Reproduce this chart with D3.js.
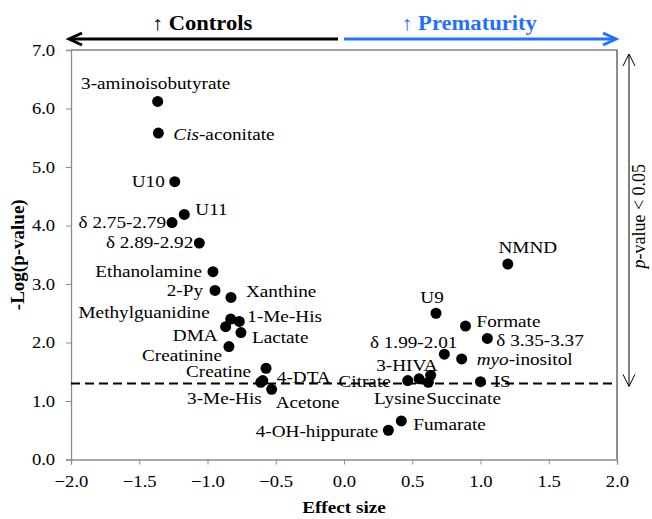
<!DOCTYPE html>
<html lang="en">
<head>
<meta charset="UTF-8">
<title>Effect size vs -Log(p-value)</title>
<script src="https://d3js.org/d3.v7.min.js"></script>
<style>
  body { margin: 0; background: #fff; }
  svg { display: block; font-family: "Liberation Serif", "Times New Roman", serif; }
  .axis .domain, .axis line { stroke: #8c8c8c; }
  .axis text { font-size: 16.5px; fill: #000; font-family: "Liberation Serif", "Times New Roman", serif; }
  .label { font-size: 17px; fill: #000; }
</style>
</head>
<body>
<svg id="chart" width="652" height="519"></svg>
<script>
// metabolites, effect size and -log10(p)
const metabolites = [
  "3-aminoisobutyrate", "Cis-aconitate", "U10", "U11", "δ 2.75-2.79", "δ 2.89-2.92",
  "Ethanolamine", "2-Py", "Xanthine", "Methylguanidine", "1-Me-His", "DMA", "Lactate",
  "Creatinine", "Creatine", "4-DTA", "3-Me-His", "Acetone", "4-OH-hippurate", "Fumarate",
  "Citrate", "Lysine", "Succinate", "3-HIVA", "U9", "δ 1.99-2.01", "myo-inositol",
  "Formate", "IS", "δ 3.35-3.37", "NMND"
];
const effectSize = [
  -1.365, -1.36, -1.24, -1.17, -1.26, -1.06,
  -0.96, -0.945, -0.828, -0.83, -0.767, -0.867, -0.755,
  -0.843, -0.571, -0.595, -0.61, -0.53, 0.325, 0.42,
  0.467, 0.55, 0.618, 0.635, 0.674, 0.735, 0.862,
  0.89, 1.00, 1.05, 1.20
];
const logP = [
  6.12, 5.58, 4.75, 4.19, 4.05, 3.70,
  3.21, 2.89, 2.77, 2.40, 2.36, 2.27, 2.17,
  1.93, 1.56, 1.35, 1.32, 1.20, 0.50, 0.66,
  1.35, 1.38, 1.32, 1.44, 2.50, 1.80, 1.72,
  2.28, 1.33, 2.07, 3.34
];
const xTicks = [-2.0, -1.5, -1.0, -0.5, 0.0, 0.5, 1.0, 1.5, 2.0];
const yTicks = [0, 1, 2, 3, 4, 5, 6, 7];
const threshold = -Math.log10(0.05);
const italicPrefix = { "Cis-aconitate": "Cis", "myo-inositol": "myo" };

// where each label sits next to its dot: [anchor, dx, dy]
const labelPlacement = {
  "3-aminoisobutyrate": ["middle", -2, -12],
  "Cis-aconitate": ["start", 15, 7],
  "U10": ["end", -10, 5],
  "U11": ["start", 11, 1],
  "δ 2.75-2.79": ["end", -6, 5],
  "δ 2.89-2.92": ["end", -6, 5],
  "Ethanolamine": ["end", -11, 5],
  "2-Py": ["end", -12, 6],
  "Xanthine": ["start", 15, 0],
  "Methylguanidine": ["end", -21, -1],
  "1-Me-His": ["start", 8, 1],
  "DMA": ["end", -8, 14],
  "Lactate": ["start", 11, 10],
  "Creatinine": ["end", -7, 14],
  "Creatine": ["end", -15, 9],
  "4-DTA": ["start", 14, 2],
  "3-Me-His": ["end", 1, 22],
  "Acetone": ["start", 4, 19],
  "4-OH-hippurate": ["end", -10, 7],
  "Fumarate": ["start", 12, 9],
  "Citrate": ["end", -17, 6],
  "Lysine": ["end", 6, 25],
  "Succinate": ["start", -2, 22],
  "3-HIVA": ["end", 7, -4],
  "U9": ["middle", -4, -10],
  "δ 1.99-2.01": ["end", 13, -6],
  "myo-inositol": ["start", 15, 6],
  "Formate": ["start", 11, 1],
  "IS": ["start", 13, 5],
  "δ 3.35-3.37": ["start", 9, 8],
  "NMND": ["middle", 20, -11]
};

const SX = 1.13; // text in the figure is a bit wide
const svg = d3.select("#chart");
const plotL = 71, plotR = 617, plotT = 50, plotB = 459.5;
const blue = "#1f72ff";

const x = d3.scaleLinear().domain([-2, 2]).range([plotL, plotR]);
const y = d3.scaleLinear().domain([0, 7]).range([plotB, plotT]);

// frame (top & right)
svg.append("path")
  .attr("d", `M${plotL},${plotT}H${plotR}V${plotB}`)
  .attr("fill", "none").attr("stroke", "#444").attr("stroke-width", 1.2);

const xAxis = svg.append("g").attr("class", "axis")
  .attr("transform", `translate(0,${plotB})`)
  .call(d3.axisBottom(x).tickValues(xTicks).tickFormat(d3.format(".1f")).tickSizeOuter(0).tickSize(5).tickPadding(11));
xAxis.selectAll("text").attr("transform", `scale(${SX},1)`);

const yAxis = svg.append("g").attr("class", "axis")
  .attr("transform", `translate(${plotL},0)`)
  .call(d3.axisLeft(y).tickValues(yTicks).tickFormat(d3.format(".1f")).tickSizeOuter(0).tickSize(5).tickPadding(9));
yAxis.selectAll("text").attr("transform", `scale(${SX},1)`);
svg.selectAll(".axis .domain").attr("stroke-width", 1.3);

// axis titles
svg.append("text")
  .attr("transform", `translate(${(plotL + plotR) / 2},513) scale(${SX},1)`)
  .attr("text-anchor", "middle").attr("font-weight", "bold").attr("font-size", 17)
  .text("Effect size");
svg.append("text")
  .attr("transform", `translate(24,${(plotT + plotB) / 2}) rotate(-90)`)
  .attr("text-anchor", "middle").attr("font-weight", "bold").attr("font-size", 19)
  .text("-Log(p-value)");

// labels
const pts = metabolites.map((name, i) => ({ name, ex: effectSize[i], lp: logP[i] }));
const labels = svg.append("g").selectAll("text").data(pts).join("text")
  .attr("class", "label")
  .attr("text-anchor", d => labelPlacement[d.name][0])
  .attr("transform", d => `translate(${x(d.ex) + labelPlacement[d.name][1]},${y(d.lp) + labelPlacement[d.name][2]}) scale(${SX},1)`);
labels.each(function (d) {
  const t = d3.select(this);
  const pre = italicPrefix[d.name];
  if (pre) {
    t.append("tspan").attr("font-style", "italic").text(pre);
    t.append("tspan").text(d.name.slice(pre.length));
  } else {
    t.text(d.name);
  }
});

// significance threshold
svg.append("line")
  .attr("x1", plotL).attr("x2", plotR)
  .attr("y1", y(threshold)).attr("y2", y(threshold))
  .attr("stroke", "#000").attr("stroke-width", 2).attr("stroke-dasharray", "9,5");

// dots
svg.append("g").selectAll("circle").data(pts).join("circle")
  .attr("cx", d => x(d.ex)).attr("cy", d => y(d.lp))
  .attr("r", 5.5).attr("fill", "#000");

// top direction arrows
function chevron(xTip, yTip, dir, color, w) {
  svg.append("path")
    .attr("d", `M${xTip - dir * 13},${yTip - 6}L${xTip},${yTip}L${xTip - dir * 13},${yTip + 6}`)
    .attr("fill", "none").attr("stroke", color).attr("stroke-width", w);
}
const arrowY = 39;
svg.append("line").attr("x1", 70).attr("x2", 338).attr("y1", arrowY).attr("y2", arrowY)
  .attr("stroke", "#000").attr("stroke-width", 3);
chevron(69, arrowY, -1, "#000", 3);
svg.append("line").attr("x1", 344).attr("x2", 615).attr("y1", arrowY).attr("y2", arrowY)
  .attr("stroke", blue).attr("stroke-width", 3);
chevron(616, arrowY, 1, blue, 3);

svg.append("text")
  .attr("transform", `translate(202,30) scale(${SX},1)`)
  .attr("text-anchor", "middle").attr("font-size", 20).attr("font-weight", "bold")
  .text("↑ Controls");
svg.append("text")
  .attr("transform", `translate(469,30) scale(${SX},1)`)
  .attr("text-anchor", "middle").attr("font-size", 20).attr("font-weight", "bold")
  .attr("fill", blue)
  .text("↑ Prematurity");

// right double arrow: p < 0.05 region
const ax = 629, ay1 = 54, ay2 = y(threshold) + 3;
svg.append("line").attr("x1", ax).attr("x2", ax).attr("y1", ay1).attr("y2", ay2)
  .attr("stroke", "#000").attr("stroke-width", 1);
svg.append("path").attr("d", `M${ax - 6},${ay1 + 12}L${ax},${ay1}L${ax + 6},${ay1 + 12}`)
  .attr("fill", "none").attr("stroke", "#000");
svg.append("path").attr("d", `M${ax - 6},${ay2 - 12}L${ax},${ay2}L${ax + 6},${ay2 - 12}`)
  .attr("fill", "none").attr("stroke", "#000");

const pv = svg.append("text")
  .attr("transform", `translate(645,${(ay1 + ay2) / 2 - 4}) rotate(-90)`)
  .attr("text-anchor", "middle").attr("font-size", 18);
pv.append("tspan").attr("font-style", "italic").text("p");
pv.append("tspan").text("-value < 0.05");
</script>
</body>
</html>
